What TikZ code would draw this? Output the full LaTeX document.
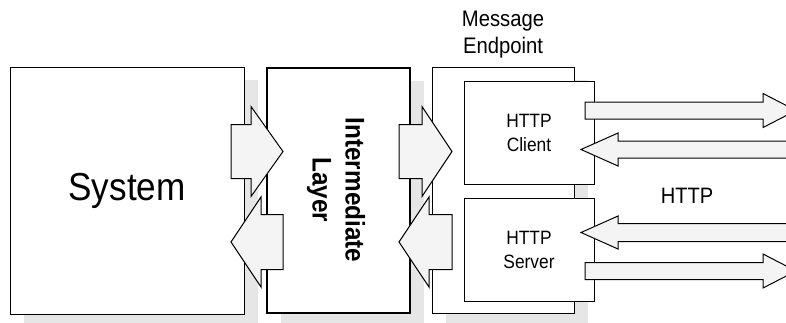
\documentclass[tikz,border=0pt]{standalone}
\usepackage{fontspec}
\setmainfont{Liberation Sans}[FakeStretch=0.9]
\usepackage{xcolor}
\usetikzlibrary{shadows}

\definecolor{flowgray}{HTML}{F4F4F4}
\definecolor{shadowgray}{HTML}{E6E6E6}

% block arrow: tail x, head base x, tip x, centre y, shaft half, head half
\newcommand{\flowarrow}[6]{%
	\draw[flow] (#1,#4-#5) -- (#2,#4-#5) -- (#2,#4-#6) -- (#3,#4)
	-- (#2,#4+#6) -- (#2,#4+#5) -- (#1,#4+#5) -- cycle;}

\begin{document}
\begin{tikzpicture}[x=1pt,y=-1pt,
	block/.style={draw,fill=white,line width=1pt,inner sep=0pt,align=center},
	shade/.style={drop shadow={shadow xshift=14pt,shadow yshift=-13pt,
		fill=shadowgray,opacity=1}},
	flow/.style={draw,fill=flowgray,line width=1pt}]
	\useasboundingbox (0,0) rectangle (786,322);
	\clip (0,0) rectangle (786,322);
	%
	\node[block,shade,minimum width=234pt,minimum height=247pt,
		font=\fontsize{39}{46}\selectfont] (sys) at (127,190.5) {System};
	\node[block,shade,line width=2.5pt,minimum width=143pt,minimum height=245pt]
		(layer) at (338.5,190.5) {};
	\node[block,shade,minimum width=142pt,minimum height=246pt]
		(ep) at (503,190) {};
	\node[block,minimum width=130pt,minimum height=103pt,
		font=\fontsize{19.3}{24}\selectfont] (client) at (529,132.5) {HTTP\\Client};
	\node[block,minimum width=130pt,minimum height=103pt,
		font=\fontsize{19.3}{24}\selectfont] (server) at (529,249.5) {HTTP\\Server};
	%
	\node[rotate=-90,align=center,font=\fontsize{27}{33}\selectfont\bfseries]
		(layertext) at (336,190) {Intermediate\\Layer};
	\node[align=center,font=\fontsize{22.5}{27}\selectfont]
		(eptext) at (503,35) {Message\\Endpoint};
	%
	% system <-> intermediate layer
	\flowarrow{231}{251}{283}{151.5}{27}{45}
	\flowarrow{283}{261}{231}{242}{27.5}{45}
	% intermediate layer <-> endpoint
	\flowarrow{399}{422}{452}{151.5}{27}{45}
	\flowarrow{452}{429}{399}{242}{27.5}{45}
	% http traffic
	\flowarrow{585}{763}{796}{110.5}{8.5}{17}
	\flowarrow{820}{618}{581}{149.5}{8.5}{16.5}
	\flowarrow{820}{618}{581}{232.5}{9}{16.5}
	\flowarrow{585}{763}{796}{271}{8.5}{17}
	%
	\node[font=\fontsize{22.3}{26}\selectfont] (http) at (687,195.5) {HTTP};
\end{tikzpicture}
\end{document}
